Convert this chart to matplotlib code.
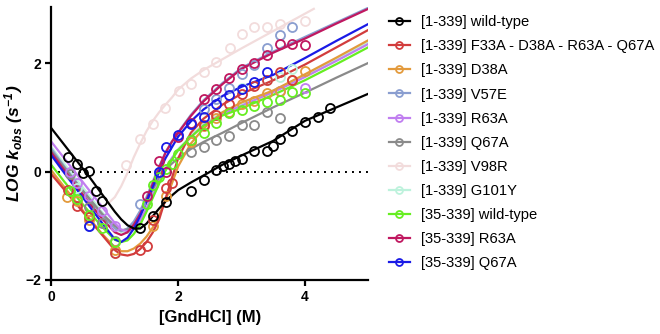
import numpy as np
import matplotlib
matplotlib.use('Agg')
import matplotlib.pyplot as plt
from matplotlib.lines import Line2D

plt.rcParams['font.family'] = ['Liberation Sans', 'DejaVu Sans']
plt.rcParams['mathtext.fontset'] = 'custom'
plt.rcParams['mathtext.it'] = 'Liberation Sans:bold:italic'
plt.rcParams['mathtext.rm'] = 'Liberation Sans:bold:italic'
plt.rcParams['mathtext.bf'] = 'Liberation Sans:bold:italic'

# series names and colours
names = ['[1-339] wild-type', '[1-339] F33A - D38A - R63A - Q67A', '[1-339] D38A',
         '[1-339] V57E', '[1-339] R63A', '[1-339] Q67A', '[1-339] V98R',
         '[1-339] G101Y', '[35-339] wild-type', '[35-339] R63A', '[35-339] Q67A']
colors = ['#000000', '#d23c3c', '#e39a3c', '#8a9ed0', '#c07ef0', '#8a8a8a',
          '#f2dcdc', '#bdf2dc', '#66ee22', '#c01860', '#1a1ae6']

# fitted curves on a common denaturant grid
fit_x = [0, 0.2, 0.4, 0.6, 0.8, 1.0, 1.1, 1.2, 1.3, 1.4, 1.5, 1.6, 1.7, 1.8, 1.9,
         2.0, 2.2, 2.4, 2.7, 3.0, 3.5, 4.0, 4.5, 5.0]
fit_wt = [0.80, 0.50, 0.20, -0.10, -0.42, -0.74, -0.88, -0.99, -1.05, -1.05, -0.96, -0.82,
          -0.68, -0.55, -0.44, -0.34, -0.20, -0.07, 0.13, 0.30, 0.57, 0.94, 1.19, 1.44]
fit_quad = [-0.05, -0.33, -0.61, -0.89, -1.17, -1.45, -1.53, -1.55, -1.52, -1.43, -1.30, -1.12,
            -0.88, -0.50, -0.12, 0.25, 0.72, 0.98, 1.24, 1.44, 1.69, 1.98, 2.30, 2.62]
fit_d38a = [0.02, -0.28, -0.58, -0.87, -1.15, -1.40, -1.47, -1.47, -1.42, -1.33, -1.20, -1.03,
            -0.80, -0.53, -0.22, 0.10, 0.52, 0.80, 1.10, 1.28, 1.50, 1.80, 2.11, 2.43]
fit_v57e = [0.42, 0.10, -0.21, -0.51, -0.80, -1.05, -1.10, -1.05, -0.92, -0.72, -0.47, -0.18,
            0.10, 0.36, 0.56, 0.73, 1.05, 1.32, 1.64, 1.92, 2.22, 2.49, 2.76, 3.03]
fit_r63a = [0.55, 0.25, -0.05, -0.35, -0.65, -0.95, -1.07, -1.10, -1.05, -0.90, -0.68, -0.42,
            -0.18, 0.06, 0.25, 0.40, 0.64, 0.86, 1.07, 1.22, 1.47, 1.75, 2.05, 2.36]
fit_q67a = [0.38, 0.08, -0.22, -0.50, -0.78, -1.00, -1.08, -1.07, -0.98, -0.80, -0.57, -0.33,
            -0.12, 0.04, 0.15, 0.25, 0.42, 0.55, 0.72, 0.90, 1.19, 1.46, 1.74, 2.01]
fit_g101y = [0.45, 0.15, -0.15, -0.45, -0.75, -1.02, -1.12, -1.13, -1.08, -0.94, -0.72, -0.46,
             -0.20, 0.05, 0.25, 0.42, 0.66, 0.88, 1.10, 1.25, 1.50, 1.78, 2.08, 2.39]
fit_wt35 = [0.12, -0.18, -0.47, -0.75, -1.02, -1.26, -1.30, -1.27, -1.15, -0.98, -0.74, -0.48,
            -0.22, 0.02, 0.22, 0.40, 0.64, 0.85, 1.04, 1.17, 1.42, 1.69, 1.99, 2.30]
fit_r63a35 = [0.35, 0.03, -0.28, -0.58, -0.87, -1.12, -1.17, -1.12, -0.98, -0.78, -0.52, -0.22,
              0.08, 0.35, 0.55, 0.72, 1.03, 1.30, 1.62, 1.90, 2.20, 2.46, 2.74, 3.01]
fit_q67a35 = [0.30, -0.02, -0.33, -0.64, -0.95, -1.25, -1.30, -1.22, -1.05, -0.82, -0.55, -0.28,
              0.00, 0.25, 0.45, 0.65, 0.93, 1.15, 1.40, 1.57, 1.79, 2.10, 2.42, 2.73]
# V98R fit only shows from ~0.9 M and stops at ~4.1 M
fit_x_v98r = [0.9, 1.0, 1.1, 1.2, 1.3, 1.4, 1.5, 1.6, 1.7, 1.8, 1.9, 2.0, 2.2, 2.4, 2.7,
              3.0, 3.5, 4.0, 4.14]
fit_v98r = [-0.58, -0.47, -0.27, -0.02, 0.27, 0.52, 0.75, 0.94, 1.10, 1.24, 1.37, 1.52, 1.72,
            1.88, 2.08, 2.28, 2.60, 2.92, 3.01]

# measured points
wt_x = [0.26, 0.4, 0.49, 0.6, 0.7, 0.8, 1.4, 1.6, 1.8, 2.2, 2.4, 2.6, 2.7, 2.8, 2.9, 3.0,
        3.2, 3.4, 3.5, 3.6, 3.8, 4.0, 4.2, 4.4]
wt_y = [0.28, 0.15, -0.03, 0.01, -0.36, -0.55, -1.05, -0.81, -0.56, -0.35, -0.15, 0.04,
        0.11, 0.14, 0.20, 0.23, 0.38, 0.38, 0.48, 0.61, 0.75, 0.91, 1.02, 1.17]
quad_x = [0.26, 0.4, 0.6, 1.0, 1.4, 1.5, 1.6, 1.8, 1.9, 2.2, 2.4, 2.6, 2.8, 3.0, 3.2, 3.4,
          3.6, 3.8]
quad_y = [-0.34, -0.64, -0.83, -1.50, -1.45, -1.38, -0.90, -0.31, -0.20, 0.58, 0.86, 1.04,
          1.26, 1.44, 1.58, 1.69, 1.84, 1.69]
d38a_x = [0.24, 0.4, 0.6, 1.0, 1.6, 1.8, 2.2, 2.4, 2.6, 2.8, 3.0, 3.2, 3.4, 3.6, 3.8, 4.0]
d38a_y = [-0.46, -0.55, -0.89, -1.45, -1.00, -0.45, 0.55, 0.85, 1.00, 1.10, 1.25, 1.30,
          1.45, 1.50, 1.69, 1.87]
v57e_x = [0.6, 1.4, 1.7, 2.4, 2.6, 2.8, 3.0, 3.2, 3.4, 3.6, 3.8]
v57e_y = [-1.00, -0.60, 0.00, 1.15, 1.35, 1.55, 1.80, 1.97, 2.28, 2.53, 2.68]
r63a_x = [0.3, 0.4, 0.6, 0.8, 1.0, 3.6, 4.0]
r63a_y = [0.00, -0.20, -0.45, -0.72, -1.00, 1.50, 1.55]
q67a_x = [0.3, 0.6, 0.8, 1.0, 2.2, 2.4, 2.6, 2.8, 3.0, 3.2, 3.4, 3.6]
q67a_y = [-0.05, -0.65, -0.95, -1.28, 0.37, 0.46, 0.58, 0.66, 0.86, 0.86, 1.10, 1.00]
v98r_x = [1.18, 1.39, 1.6, 1.79, 2.01, 2.2, 2.4, 2.6, 2.81, 3.01, 3.2, 3.4, 3.6, 4.0]
v98r_y = [0.13, 0.60, 0.89, 1.18, 1.49, 1.63, 1.84, 2.02, 2.28, 2.55, 2.68, 2.67, 2.73, 2.78]
g101y_x = [0.4, 1.0, 3.0, 3.4, 3.6, 3.8]
g101y_y = [-0.30, -1.50, 1.55, 1.70, 1.75, 1.90]
wt35_x = [0.3, 0.4, 0.6, 0.8, 1.0, 1.5, 1.6, 1.7, 1.8, 1.9, 2.0, 2.2, 2.4, 2.6, 2.8, 3.0,
          3.2, 3.4, 3.6, 3.8, 4.0]
wt35_y = [-0.35, -0.50, -0.80, -1.05, -1.30, -0.60, -0.25, -0.10, 0.05, 0.15, 0.33, 0.58,
          0.72, 0.90, 1.08, 1.14, 1.22, 1.29, 1.32, 1.47, 1.45]
r63a35_x = [1.5, 1.7, 1.8, 2.0, 2.2, 2.4, 2.6, 2.8, 3.0, 3.2, 3.4, 3.6, 3.8, 4.0]
r63a35_y = [-0.45, 0.20, 0.00, 0.64, 0.90, 1.35, 1.52, 1.74, 1.90, 2.01, 2.15, 2.36, 2.36,
            2.35]
q67a35_x = [0.6, 1.7, 1.8, 2.0, 2.2, 2.4, 2.6, 2.8, 3.0, 3.2, 3.4]
q67a35_y = [-1.00, 0.00, 0.46, 0.67, 0.89, 1.02, 1.26, 1.41, 1.52, 1.65, 1.84]

series = [
    (fit_x_v98r, fit_v98r, v98r_x, v98r_y, 6),
    (fit_x, fit_g101y, g101y_x, g101y_y, 7),
    (fit_x, fit_v57e, v57e_x, v57e_y, 3),
    (fit_x, fit_q67a, q67a_x, q67a_y, 5),
    (fit_x, fit_r63a, r63a_x, r63a_y, 4),
    (fit_x, fit_d38a, d38a_x, d38a_y, 2),
    (fit_x, fit_quad, quad_x, quad_y, 1),
    (fit_x, fit_wt35, wt35_x, wt35_y, 8),
    (fit_x, fit_r63a35, r63a35_x, r63a35_y, 9),
    (fit_x, fit_q67a35, q67a35_x, q67a35_y, 10),
    (fit_x, fit_wt, wt_x, wt_y, 0),
]

fig = plt.figure(figsize=(6.6, 3.34), dpi=100)
ax = fig.add_axes([0.078, 0.162, 0.480, 0.818])

for fx, fy, px, py, i in series:
    ax.plot(fx, fy, color=colors[i], linewidth=1.6, zorder=2)
    ax.plot(px, py, linestyle='none', marker='o', markersize=6.5, markerfacecolor='none',
            markeredgecolor=colors[i], markeredgewidth=1.3, zorder=3)

ax.axhline(0, color='black', linestyle=(0, (1, 2.6)), linewidth=1.4, zorder=1)

ax.set_xlim(0, 5)
ax.set_ylim(-2, 3.05)
ax.set_xticks([0, 2, 4])
ax.set_yticks([-2, 0, 2])
ax.spines['top'].set_visible(False)
ax.spines['right'].set_visible(False)
for s in ['left', 'bottom']:
    ax.spines[s].set_linewidth(1.6)
ax.tick_params(width=1.6, length=4, labelsize=10)
for lab in ax.get_xticklabels() + ax.get_yticklabels():
    lab.set_fontweight('bold')

ax.set_xlabel('[GndHCl] (M)', fontsize=12, fontweight='bold')
ax.set_ylabel(r'$LOG\ k_{obs}\ (s^{-1})$', fontsize=12.5, labelpad=0)

handles = [Line2D([], [], color=c, linewidth=1.6, marker='o', markersize=5,
                  markerfacecolor='none', markeredgewidth=1.3, markeredgecolor=c)
           for c in colors]
fig.legend(handles, names, loc='upper left', bbox_to_anchor=(0.574, 0.985), frameon=False,
           fontsize=10.6, handlelength=1.4, handletextpad=0.75, labelspacing=0.685,
           borderaxespad=0.3)

fig.savefig('out.png', dpi=100)
